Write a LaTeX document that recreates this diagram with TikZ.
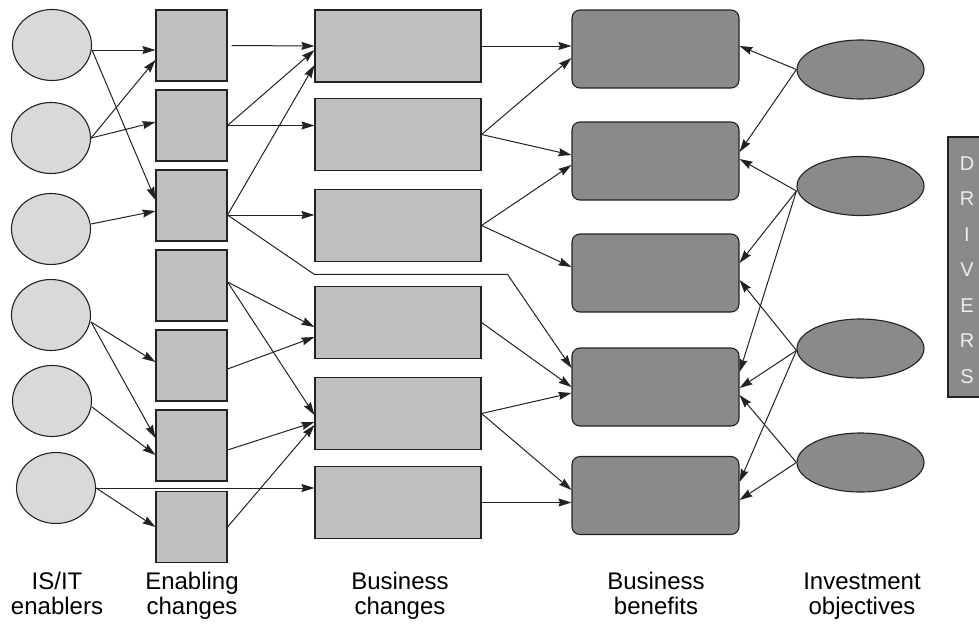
\documentclass[tikz,border=0pt]{standalone}
\usepackage{fontspec}
\setmainfont{Liberation Sans}
\usetikzlibrary{shapes.geometric,arrows.meta}

\definecolor{enablergray}{HTML}{D9D9D9}
\definecolor{changegray}{HTML}{C0C0C0}
\definecolor{benefitgray}{HTML}{8A8A8A}
\definecolor{linegray}{HTML}{222222}
\definecolor{drivertext}{HTML}{EDEDED}

\begin{document}
\begin{tikzpicture}[x=1pt,y=-1pt,line width=1.1pt,
		enabler/.style={ellipse,draw=linegray,fill=enablergray,minimum width=79pt,minimum height=71pt,inner sep=0pt},
		enabling/.style={rectangle,draw=linegray,fill=changegray,minimum width=71pt,minimum height=71pt,inner sep=0pt},
		buschange/.style={rectangle,draw=linegray,fill=changegray,minimum width=166pt,minimum height=72pt,inner sep=0pt},
		benefit/.style={rectangle,rounded corners=8pt,draw=linegray,fill=benefitgray,minimum width=167pt,minimum height=78pt,inner sep=0pt},
		objective/.style={ellipse,draw=linegray,fill=benefitgray,minimum width=127pt,minimum height=59pt,inner sep=0pt},
		arr/.style={-{Stealth[length=13pt,width=8pt,inset=1.5pt]},color=linegray,line width=1pt},
		caption/.style={align=center,anchor=north,inner sep=0pt,font=\fontsize{24}{25}\selectfont}]
				\clip (0,0) rectangle (979,624);
				% IS/IT enablers
				\node[enabler] (e1) at (52,45) {};
				\node[enabler] (e2) at (51,138) {};
				\node[enabler] (e3) at (51,229) {};
				\node[enabler] (e4) at (51,315) {};
				\node[enabler] (e5) at (52,401) {};
				\node[enabler] (e6) at (56,488) {};
				% enabling changes
				\node[enabling] (c1) at (191.5,45.5) {};
				\node[enabling] (c2) at (191.5,125.5) {};
				\node[enabling] (c3) at (191.5,205.5) {};
				\node[enabling] (c4) at (191.5,285.5) {};
				\node[enabling] (c5) at (191.5,365.5) {};
				\node[enabling] (c6) at (191.5,445.5) {};
				\node[enabling] (c7) at (191.5,527) {};
				% business changes
				\node[buschange] (b1) at (398,46) {};
				\node[buschange] (b2) at (398,134.5) {};
				\node[buschange] (b3) at (398,225.5) {};
				\node[buschange] (b4) at (398,322.5) {};
				\node[buschange] (b5) at (398,413.5) {};
				\node[buschange] (b6) at (398,502.5) {};
				% business benefits
				\node[benefit] (f1) at (655.5,49) {};
				\node[benefit] (f2) at (655.5,161) {};
				\node[benefit] (f3) at (655.5,273) {};
				\node[benefit] (f4) at (655.5,387) {};
				\node[benefit] (f5) at (655.5,495.5) {};
				% investment objectives
				\node[objective] (o1) at (860.5,69.5) {};
				\node[objective] (o2) at (860.5,186) {};
				\node[objective] (o3) at (860.5,348.5) {};
				\node[objective] (o4) at (860.5,462.5) {};
				% drivers
				\filldraw[draw=linegray,fill=benefitgray] (948,137) rectangle (990,397);
				\node[text=drivertext,align=center,inner sep=0pt,font=\fontsize{20}{35.5}\selectfont] (drivers) at (967,270) {D\\R\\I\\V\\E\\R\\S};

				% enablers to enabling changes
				\path[arr] ([yshift=-5pt]e1.east) edge ([yshift=-4.5pt]c1.west) edge ([yshift=5.5pt]c3.west);
				\path[arr] (e2.east) edge ([yshift=-14.5pt]c1.west) edge ([yshift=3.5pt]c2.west);
				\path[arr] ([yshift=5pt]e3.east) edge ([yshift=-5.5pt]c3.west);
				\path[arr] ([yshift=-7pt]e4.east) edge ([yshift=3.5pt]c5.west) edge ([yshift=7.5pt]c6.west);
				\path[arr] ([yshift=-6pt]e5.east) edge ([yshift=-9.5pt]c6.west);
				\path[arr] (e6.east) edge (e6.east -| b6.west) edge (c7.west);

				% enabling changes to business changes
				\path[arr] ([xshift=4pt]c1.east) edge (b1.west);
				\path[arr] (c2.east) edge ([yshift=-4pt]b1.west) edge ([yshift=9pt]b2.west);
				\path[arr] ([yshift=-9.5pt]c3.east) edge ([yshift=-19pt]b1.west) edge ([yshift=10.5pt]b3.west);
				\draw[arr] ([yshift=-9.5pt]c3.east) -- ([yshift=11.5pt]b4.north west) -- ([xshift=26pt,yshift=11.5pt]b4.north east) -- ([yshift=19pt]f4.west);
				\path[arr] ([yshift=3.5pt]c4.east) edge ([yshift=-4.5pt]b4.west) edge ([yshift=-1.5pt]b5.west);
				\path[arr] ([yshift=-3.5pt]c5.east) edge ([yshift=-14.5pt]b4.west);
				\path[arr] ([yshift=-4.5pt]c6.east) edge ([yshift=-8.5pt]b5.west);
				\path[arr] (c7.east) edge ([yshift=-11.5pt]b5.west);

				% business changes to benefits
				\path[arr] (b1.east) edge (b1.east -| f1.west);
				\path[arr] (b2.east) edge ([yshift=-9pt]f1.west) edge ([yshift=6pt]f2.west);
				\path[arr] (b3.east) edge ([yshift=-4pt]f2.west) edge ([yshift=6pt]f3.west);
				\path[arr] (b4.east) edge (f4.west);
				\path[arr] (b5.east) edge ([yshift=-6pt]f4.west) edge ([yshift=5.5pt]f5.west);
				\path[arr] (b6.east) edge (b6.east -| f5.west);

				% objectives to benefits
				\path[arr] (o1.west) edge ([yshift=3pt]f1.east) edge ([yshift=9pt]f2.east);
				\path[arr] ([yshift=-5pt]o2.west) edge ([yshift=2pt]f2.east) edge ([yshift=10pt]f3.east) edge ([yshift=15pt]f4.east);
				\path[arr] ([yshift=-2pt]o3.west) edge ([yshift=-7pt]f3.east) edge ([yshift=-1pt]f4.east) edge ([yshift=13.5pt]f5.east);
				\path[arr] (o4.west) edge ([yshift=-8pt]f4.east) edge ([yshift=-4.5pt]f5.east);

				% column captions
				\node[caption] (capenablers) at (57,572) {IS/IT\\enablers};
				\node[caption] (capenabling) at (192,572) {Enabling\\changes};
				\node[caption] (capchanges) at (400,572) {Business\\changes};
				\node[caption] (capbenefits) at (656,572) {Business\\benefits};
				\node[caption] (capobjectives) at (862,572) {Investment\\objectives};
			\end{tikzpicture}
\end{document}
